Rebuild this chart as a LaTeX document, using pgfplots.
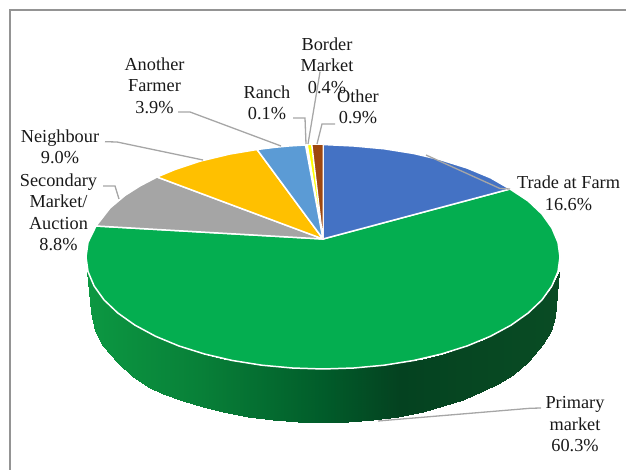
\documentclass[border=0pt]{standalone}
\usepackage{pgfplots}
\pgfplotsset{compat=1.18}
\usepackage{fontspec}
\setmainfont{Liberation Serif}
\definecolor{cBlue}{HTML}{4472C4}
\definecolor{cGreen}{HTML}{04AE50}
\definecolor{cGray}{HTML}{A5A5A5}
\definecolor{cAmber}{HTML}{FFC000}
\definecolor{cSky}{HTML}{5B9BD5}
\definecolor{cYel}{HTML}{FFFF00}
\definecolor{cBrown}{HTML}{9E480E}
\definecolor{cLead}{HTML}{A6A6A6}
\tikzset{
  lab/.style={font=\fontsize{18.3bp}{21.5bp}\selectfont, align=center, text=black!90, inner sep=0pt},
  lead/.style={draw=cLead, line width=1.3bp},
  slice/.style={draw=white, line width=1.5bp, line join=round},
}
\begin{document}
\begin{tikzpicture}
\begin{axis}[
  scale only axis, width=626bp, height=470bp,
  xmin=0, xmax=626, ymin=0, ymax=470, y dir=reverse,
  axis lines=none, ticks=none,
  colormap={wall}{rgb255(87)=(12,152,66); rgb255(200)=(8,128,56); rgb255(323)=(1,92,42); rgb255(400)=(4,66,32); rgb255(559)=(9,76,36)},
  point meta min=87, point meta max=559,
]
% page extent
\addplot[draw=none, no markers] coordinates {(0,0)(626,470)};
% frame
\addplot[draw=black!42, line width=2bp, no markers, sharp plot] coordinates {(9.5,470) (9.5,10.5) (626,10.5)};
% side wall of the 3D pie
\addplot[patch, patch type=rectangle, shader=interp, point meta=x] coordinates {
(87,272)(91.5,312)(95,331)(95,287.6)
(95,287.6)(95,331)(103,346)(103,298.7)
(103,298.7)(103,346)(118,363.5)(118,313.2)
(118,313.2)(118,363.5)(133,377)(133,324)
(133,324)(133,377)(148,387)(148,332.5)
(148,332.5)(148,387)(163,394)(163,339.6)
(163,339.6)(163,394)(183,401.1)(183,347.4)
(183,347.4)(183,401.1)(203,407.3)(203,353.6)
(203,353.6)(203,407.3)(223,412.2)(223,358.6)
(223,358.6)(223,412.2)(248,416.8)(248,363.3)
(248,363.3)(248,416.8)(273,420)(273,366.5)
(273,366.5)(273,420)(298,421.9)(298,368.4)
(298,368.4)(298,421.9)(323,422.5)(323,369)
(323,369)(323,422.5)(348,421.9)(348,368.4)
(348,368.4)(348,421.9)(373,420)(373,366.5)
(373,366.5)(373,420)(398,416.8)(398,363.3)
(398,363.3)(398,416.8)(423,412.2)(423,358.6)
(423,358.6)(423,412.2)(443,406.5)(443,353.6)
(443,353.6)(443,406.5)(463,400)(463,347.4)
(463,347.4)(463,400)(483,391.5)(483,339.6)
(483,339.6)(483,391.5)(498,384)(498,332.5)
(498,332.5)(498,384)(513,375)(513,324)
(513,324)(513,375)(528,362.5)(528,313.2)
(528,313.2)(528,362.5)(543,344.5)(543,298.7)
(543,298.7)(543,344.5)(551,331)(551,287.6)
(551,287.6)(551,331)(555,317)(559,272)
};
% Primary market 60.3
\addplot[slice, no markers, sharp plot, fill=cGreen] coordinates {(323,239)(510,189)(528.2,201)(542,214.1)(551.9,228)(558,242.4)(560,257)(558,271.6)(551.9,286)(542,299.9)(528.2,313)(511,325.2)(490.6,336.2)(467.3,345.9)(441.5,354)(413.7,360.5)(384.3,365.2)(353.9,368)(323,369)(292.1,368)(261.7,365.2)(232.3,360.5)(204.5,354)(178.7,345.9)(155.4,336.2)(135,325.2)(117.8,313)(104,299.9)(94.1,286)(88,271.6)(86,257)(88,242.4)(96,226)} -- cycle;
% Trade at Farm 16.6
\addplot[slice, no markers, sharp plot, fill=cBlue] coordinates {(323,239)(323,144.5)(353.9,146)(384.3,148.8)(413.7,153.5)(441.5,160)(467.3,168.1)(490.6,177.8)(510,189)} -- cycle;
% Secondary market 8.8
\addplot[slice, no markers, sharp plot, fill=cGray] coordinates {(323,239)(96,226)(110,208)(125,195.4)(140,185.9)(157,177)} -- cycle;
% Neighbour 9.0
\addplot[slice, no markers, sharp plot, fill=cAmber] coordinates {(323,239)(157,177)(175,169.5)(200,161.2)(230,154)(257,149.5)} -- cycle;
% Another farmer 3.9
\addplot[slice, no markers, sharp plot, fill=cSky] coordinates {(323,239)(257,149.5)(275,147.3)(290,145.9)(305.5,145)} -- cycle;
% Border market 0.4
\addplot[slice, line width=1bp, no markers, sharp plot, fill=cYel] coordinates {(323,239)(307.5,144.8)(311.5,144.6)} -- cycle;
% Other 0.9
\addplot[slice, line width=1bp, no markers, sharp plot, fill=cBrown] coordinates {(323,239)(312,144.5)(323,144.5)} -- cycle;
% leader lines
\addplot[lead, no markers, sharp plot] coordinates {(426,155)(500,188.5)(510,189)};
\addplot[lead, no markers, sharp plot] coordinates {(378,421)(530,408.3)(541,408)};
\addplot[lead, no markers, sharp plot] coordinates {(317,144)(322,124)(335,124)};
\addplot[lead, no markers, sharp plot] coordinates {(308,144)(320,72)};
\addplot[lead, no markers, sharp plot] coordinates {(293,118)(305,118)(306,144)};
\addplot[lead, no markers, sharp plot] coordinates {(178,112)(190,112)(281,146)};
\addplot[lead, no markers, sharp plot] coordinates {(105,141.7)(117,142)(203,160)};
\addplot[lead, no markers, sharp plot] coordinates {(103,186)(115,186)(119,199)};
% labels
\node[lab] at (axis cs:327,65.5) {Border\\Market\\0.4\%};
\node[lab] at (axis cs:358,107) {Other\\0.9\%};
\node[lab] at (axis cs:267,103) {Ranch\\0.1\%};
\node[lab] at (axis cs:154.5,85.5) {Another\\Farmer\\3.9\%};
\node[lab] at (axis cs:60,147) {Neighbour\\9.0\%};
\node[lab] at (axis cs:58.5,212.5) {Secondary\\Market/\\Auction\\8.8\%};
\node[lab] at (axis cs:568.5,193.5) {Trade at Farm\\16.6\%};
\node[lab] at (axis cs:575,424.5) {Primary\\market\\60.3\%};
\end{axis}
\end{tikzpicture}
\end{document}
